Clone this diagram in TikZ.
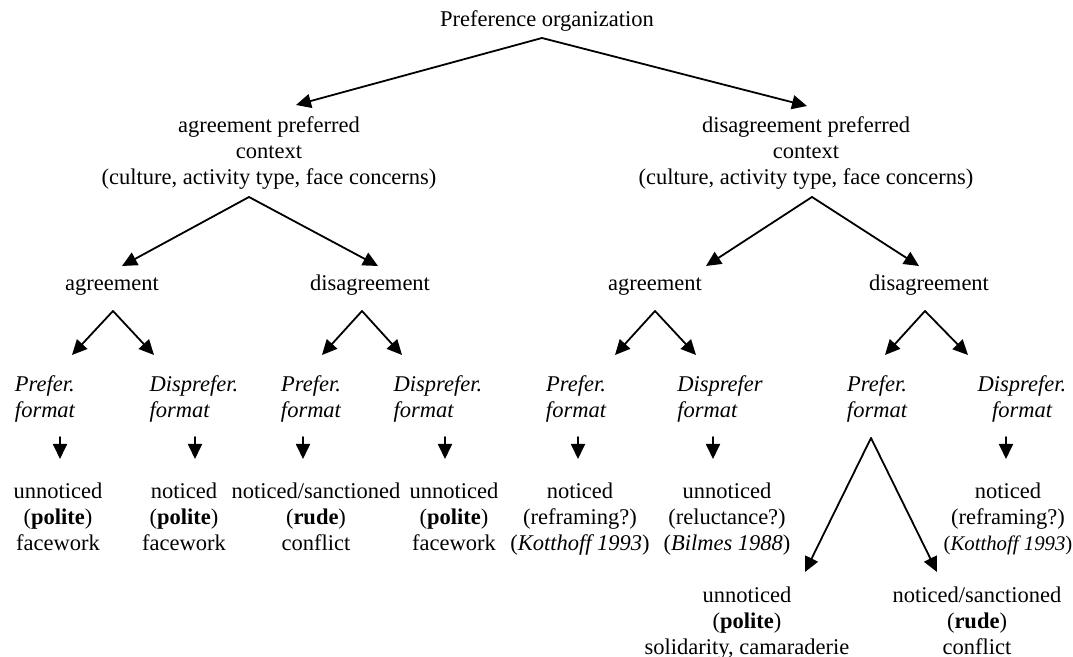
\documentclass[tikz,border=0pt]{standalone}
\usepackage{fontspec}
\setmainfont{Liberation Serif}
\usetikzlibrary{arrows.meta}

\tikzset{
  txt/.style={font=\fontsize{11.25}{13}\selectfont,inner sep=0pt,align=center,
              execute at begin node=\strut,execute at end node=\strut},
  txtl/.style={txt,align=left},
  arr/.style={-{Triangle[length=7.5pt,width=7pt]},line width=0.9pt},
}

\begin{document}
\begin{tikzpicture}[x=0.5pt,y=-0.5pt,line cap=round]
\useasboundingbox (0,0) rectangle (1073,657);
% ---------- root ----------
\node[txt] (root) at (547,21) {Preference organization};
% ---------- contexts ----------
\node[txt] (ctxagr) at (269,154) {agreement preferred\\context\\(culture, activity type, face concerns)};
\node[txt] (ctxdis) at (806,154) {disagreement preferred\\context\\(culture, activity type, face concerns)};
% ---------- responses ----------
\node[txt] (agrA) at (112,285) {agreement};
\node[txt] (disA) at (370,285) {disagreement};
\node[txt] (agrB) at (655,285) {agreement};
\node[txt] (disB) at (929,285) {disagreement};
% ---------- formats ----------
\node[txtl] (fmt1) at (45,400) {\itshape Prefer.\\\itshape format};
\node[txtl] (fmt2) at (194,400) {\itshape Disprefer.\\\itshape format};
\node[txt]  (fmt3) at (311,400) {\itshape Prefer.\\\itshape format};
\node[txtl] (fmt4) at (438,400) {\itshape Disprefer.\\\itshape format};
\node[txt]  (fmt5) at (576,400) {\itshape Prefer.\\\itshape format};
\node[txtl] (fmt6) at (720,400) {\itshape Disprefer\\\itshape format};
\node[txt]  (fmt7) at (877,400) {\itshape Prefer.\\\itshape format};
\node[txt]  (fmt8) at (1022,400) {\itshape Disprefer.\\\itshape format};
% ---------- outcomes ----------
\node[txt] (res1) at (58,521) {unnoticed\\(\textbf{polite})\\facework};
\node[txt] (res2) at (184,521) {noticed\\(\textbf{polite})\\facework};
\node[txt] (res3) at (316,521) {noticed/sanctioned\\(\textbf{rude})\\conflict};
\node[txt] (res4) at (454,521) {unnoticed\\(\textbf{polite})\\facework};
\node[txt] (res5) at (580,521) {noticed\\(reframing?)\\(\textit{Kotthoff 1993})};
\node[txt] (res6) at (727,521) {unnoticed\\(reluctance?)\\(\textit{Bilmes 1988})};
\node[txt] (res8) at (1008,521) {noticed\\(reframing?)\\{\fontsize{10.4}{13}\selectfont(\textit{Kotthoff 1993})}};
\node[txt] (res7a) at (747,625) {unnoticed\\(\textbf{polite})\\solidarity, camaraderie};
\node[txt] (res7b) at (977,625) {noticed/sanctioned\\(\textbf{rude})\\conflict};
% ---------- forks ----------
\foreach \n/\p/\l/\r in {root/{542,38}/{296,105}/{807,106},
                         ctxagr/{249,197}/{122,266}/{378,266},
                         ctxdis/{812,197}/{706,266}/{919,266},
                         agrA/{113,311}/{72,355}/{154,355},
                         disA/{362,311}/{322,355}/{402,355},
                         agrB/{655,311}/{615,355}/{696,355},
                         disB/{925,311}/{885,355}/{968,355},
                         fmt7/{871,438}/{805,572}/{937,572}}{
  \coordinate (\n fork) at (\p);
  \coordinate (\n left) at (\l);
  \coordinate (\n right) at (\r);
  \draw[arr] (\n fork) -- (\n left);
  \draw[arr] (\n fork) -- (\n right);
}
% ---------- format -> outcome ----------
\foreach \n/\x in {1/60,2/195,3/303,4/445,5/578,6/713,8/1006}{
  \coordinate (fmt\n out) at (\x,437);
  \coordinate (res\n in) at (\x,459);
  \draw[arr] (fmt\n out) -- (res\n in);
}
\end{tikzpicture}
\end{document}
